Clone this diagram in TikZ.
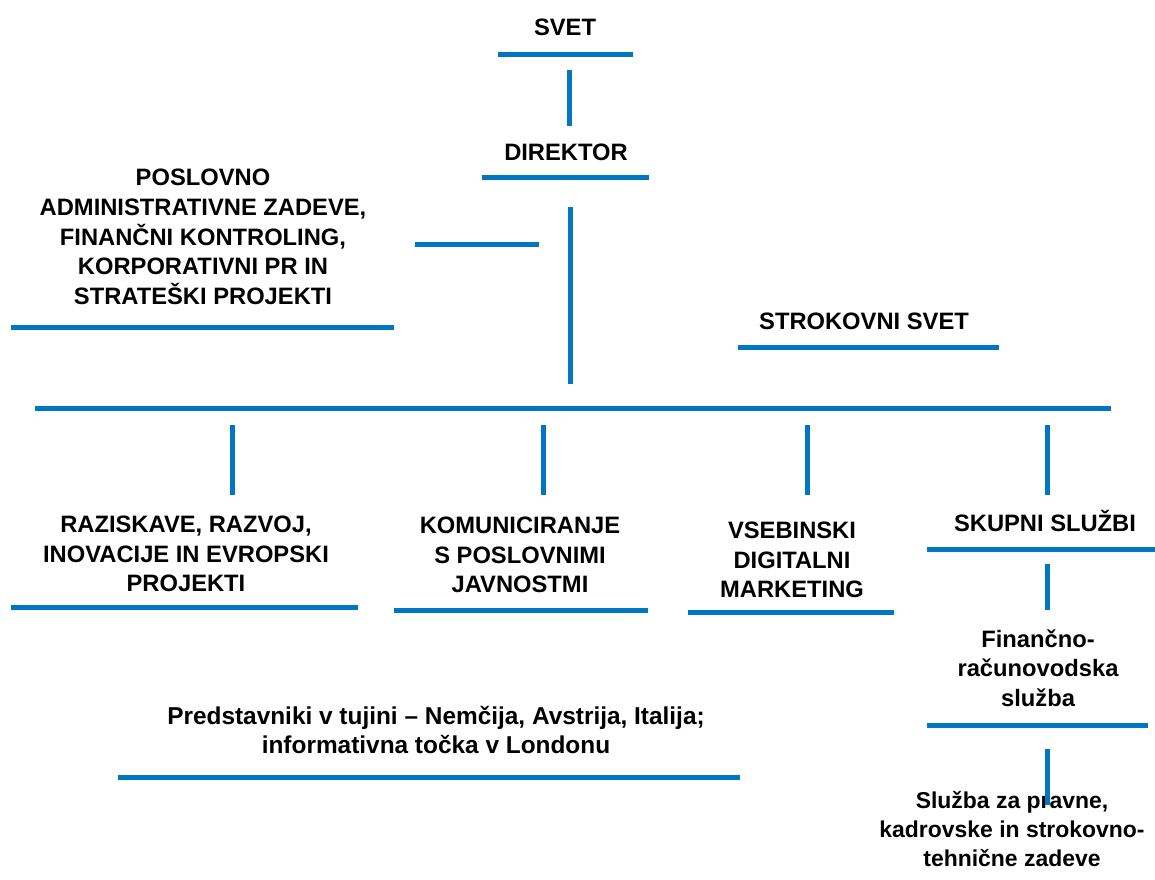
\documentclass[tikz,border=0pt]{standalone}
\usepackage{fontspec}
\setmainfont{Liberation Sans}
\definecolor{lineblue}{RGB}{0,119,192}
\tikzset{
  bar/.style={draw=lineblue,line width=3.75pt},
  lbl/.style={font=\bfseries\fontsize{17.8pt}{22.3pt}\selectfont,align=center,inner sep=0pt,text=black},
}
\begin{document}
\begin{tikzpicture}[x=0.75pt,y=-0.75pt]
\useasboundingbox (0,0) rectangle (1155,879);
% texts
\node[lbl] (svet) at (565,27) {SVET};
\node[lbl] (dir) at (566,152) {DIREKTOR};
\node[lbl] (posl) at (203,237) {POSLOVNO\\ADMINISTRATIVNE ZADEVE,\\FINANČNI KONTROLING,\\KORPORATIVNI PR IN\\STRATEŠKI PROJEKTI};
\node[lbl] (strok) at (864,321) {STROKOVNI SVET};
\node[lbl] (raz) at (186,554) {RAZISKAVE, RAZVOJ,\\INOVACIJE IN EVROPSKI\\PROJEKTI};
\node[lbl] (kom) at (520,555) {KOMUNICIRANJE\\S POSLOVNIMI\\JAVNOSTMI};
\node[lbl] (vseb) at (792,560) {VSEBINSKI\\DIGITALNI\\MARKETING};
\node[lbl] (skup) at (1045,521) {SKUPNI SLUŽBI};
\node[lbl] (fin) at (1038,668) {Finančno-\\računovodska\\služba};
\node[lbl,font=\bfseries\fontsize{18.3pt}{22.3pt}\selectfont] (pred) at (436,730) {Predstavniki v tujini – Nemčija, Avstrija, Italija;\\informativna točka v Londonu};
\node[lbl,font=\bfseries\fontsize{17.2pt}{22pt}\selectfont] (sluz) at (1012,829) {Služba za pravne,\\kadrovske in strokovno-\\tehnične zadeve};
% coordinates of bars
\coordinate (svetA) at (498,54); \coordinate (svetB) at (633,54);
\coordinate (v1A) at (569,70); \coordinate (v1B) at (569,126);
\coordinate (dirA) at (482,177); \coordinate (dirB) at (649,177);
\coordinate (v2A) at (570,207); \coordinate (v2B) at (570,384);
\coordinate (hsA) at (415,244); \coordinate (hsB) at (539,244);
\coordinate (poslA) at (11,327); \coordinate (poslB) at (394,327);
\coordinate (strokA) at (738,347); \coordinate (strokB) at (999,347);
\coordinate (mainA) at (35,408); \coordinate (mainB) at (1111,408);
\coordinate (d1A) at (232,425); \coordinate (d1B) at (232,495);
\coordinate (d2A) at (543,425); \coordinate (d2B) at (543,495);
\coordinate (d3A) at (807,425); \coordinate (d3B) at (807,495);
\coordinate (d4A) at (1047,425); \coordinate (d4B) at (1047,495);
\coordinate (razA) at (11,607); \coordinate (razB) at (358,607);
\coordinate (komA) at (394,610); \coordinate (komB) at (648,610);
\coordinate (vsebA) at (688,612); \coordinate (vsebB) at (894,612);
\coordinate (skupA) at (927,549); \coordinate (skupB) at (1155,549);
\coordinate (v3A) at (1047,564); \coordinate (v3B) at (1047,610);
\coordinate (finA) at (927,725); \coordinate (finB) at (1148,725);
\coordinate (v4A) at (1047,749); \coordinate (v4B) at (1047,805);
\coordinate (predA) at (118,777); \coordinate (predB) at (740,777);
% bars
\foreach \a/\b in {svetA/svetB,v1A/v1B,dirA/dirB,v2A/v2B,hsA/hsB,poslA/poslB,strokA/strokB,mainA/mainB,d1A/d1B,d2A/d2B,d3A/d3B,d4A/d4B,razA/razB,komA/komB,vsebA/vsebB,skupA/skupB,v3A/v3B,finA/finB,v4A/v4B,predA/predB}
  \draw[bar] (\a) -- (\b);
\end{tikzpicture}
\end{document}
